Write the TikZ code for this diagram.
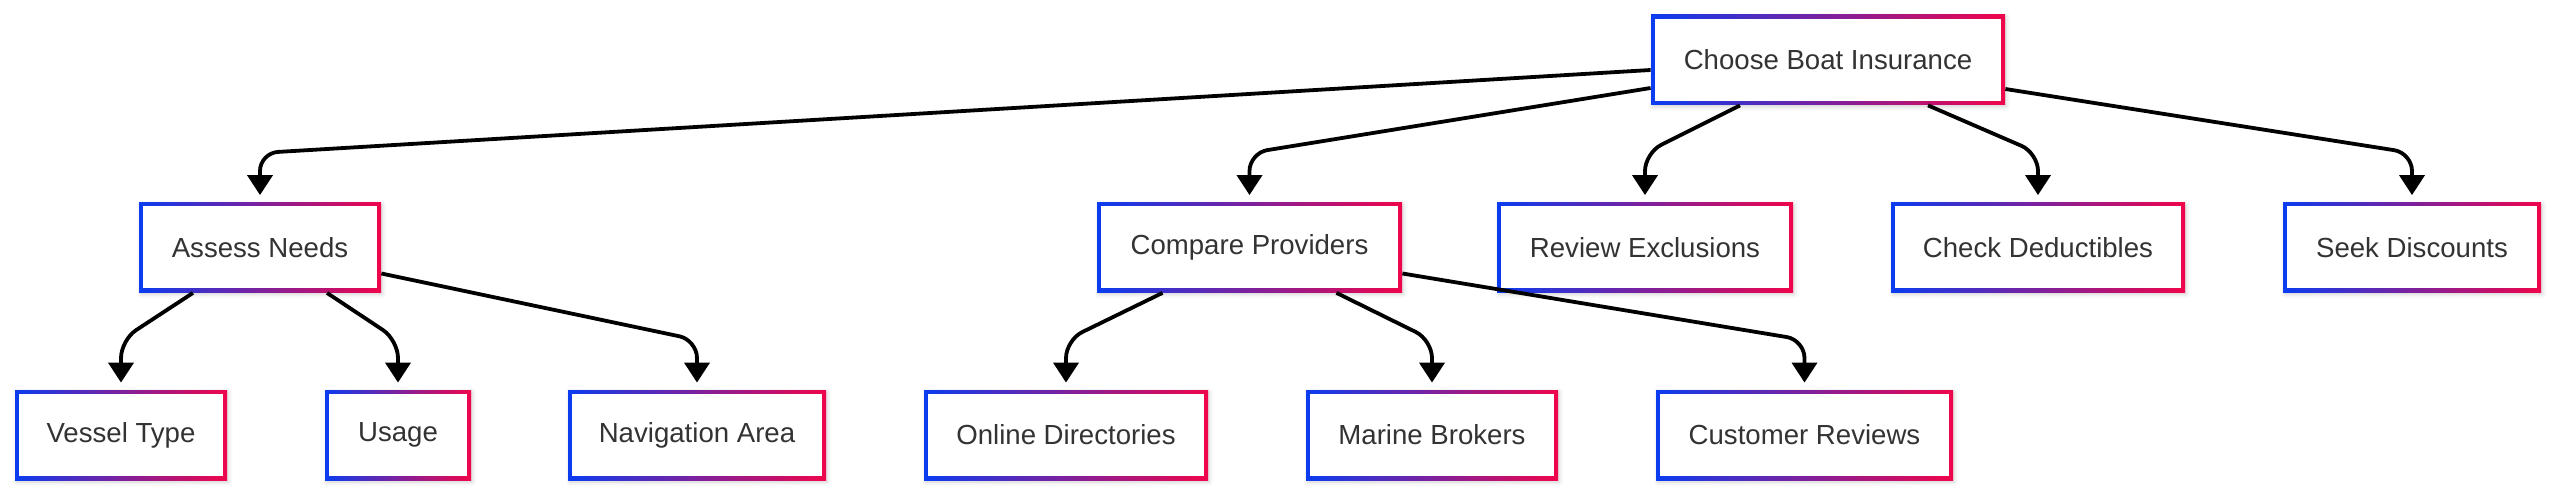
\documentclass[tikz,border=0pt]{standalone}
\usepackage{fontspec}
\setmainfont{Liberation Sans}
\usetikzlibrary{arrows.meta,calc,shadows.blur}
\definecolor{bblue}{RGB}{10,60,240}
\definecolor{bred}{RGB}{240,5,75}
\definecolor{txt}{RGB}{51,51,51}
\tikzset{
 box/.style={rectangle, minimum height=45pt, inner sep=0pt, text=txt,
  font=\fontsize{13.8}{16}\selectfont,
  blur shadow={shadow xshift=0.8pt, shadow yshift=-1pt, shadow blur radius=2pt, shadow opacity=18},
  path picture={\shade[left color=bblue,right color=bred] (path picture bounding box.south west) rectangle (path picture bounding box.north east);
  \fill[white] ([shift={(2pt,2pt)}]path picture bounding box.south west) rectangle ([shift={(-2pt,-2pt)}]path picture bounding box.north east);}},
 link/.style={line width=1.9pt, rounded corners=9pt, -{Triangle[length=10pt,width=12.5pt]}}
}
\begin{document}
\begin{tikzpicture}[x=0.5pt,y=-0.5pt]
\useasboundingbox (0,0) rectangle (2560,497);
% level 1
\node[box, minimum width=177pt] (top) at (1828,60) {Choose Boat Insurance};
% level 2
\node[box, minimum width=121pt] (assess) at (260,247.5) {Assess Needs};
\node[box, minimum width=152.5pt] (compare) at (1249.5,247.5) {Compare Providers};
\node[box, minimum width=148pt] (review) at (1645,247.5) {Review Exclusions};
\node[box, minimum width=147pt] (check) at (2038,247.5) {Check Deductibles};
\node[box, minimum width=129pt] (seek) at (2412,247.5) {Seek Discounts};
% level 3
\node[box, minimum width=106pt] (vessel) at (121,435) {Vessel Type};
\node[box, minimum width=73pt] (usage) at (398,435) {Usage};
\node[box, minimum width=129pt] (nav) at (697,435) {Navigation Area};
\node[box, minimum width=142pt] (online) at (1066,435) {Online Directories};
\node[box, minimum width=126pt] (marine) at (1432,435) {Marine Brokers};
\node[box, minimum width=148.5pt] (customer) at (1804.5,435) {Customer Reviews};
\coordinate (L2) at (0,153);
\coordinate (L3) at (0,340);
% edges level 1 -> 2
\draw[link] ($(top.west)+(0,10)$) -- (assess.north |- L2) -- ($(assess.north)+(0,-7)$);
\draw[link] ($(top.west)+(0,28)$) -- (compare.north |- L2) -- ($(compare.north)+(0,-7)$);
\draw[link] ($(top.south)+(-88,0)$) -- (review.north |- L2) -- ($(review.north)+(0,-7)$);
\draw[link] ($(top.south)+(100,0)$) -- (check.north |- L2) -- ($(check.north)+(0,-7)$);
\draw[link] ($(top.east)+(0,29)$) -- (seek.north |- L2) -- ($(seek.north)+(0,-7)$);
% edges level 2 -> 3
\draw[link] ($(assess.south)+(-67,0)$) -- (vessel.north |- L3) -- ($(vessel.north)+(0,-7)$);
\draw[link] ($(assess.south)+(67,0)$) -- (usage.north |- L3) -- ($(usage.north)+(0,-7)$);
\draw[link] ($(assess.east)+(0,26)$) -- (nav.north |- L3) -- ($(nav.north)+(0,-7)$);
\draw[link] ($(compare.south)+(-87,0)$) -- (online.north |- L3) -- ($(online.north)+(0,-7)$);
\draw[link] ($(compare.south)+(87,0)$) -- (marine.north |- L3) -- ($(marine.north)+(0,-7)$);
\draw[link] ($(compare.east)+(0,26)$) -- (customer.north |- L3) -- ($(customer.north)+(0,-7)$);
\end{tikzpicture}
\end{document}
